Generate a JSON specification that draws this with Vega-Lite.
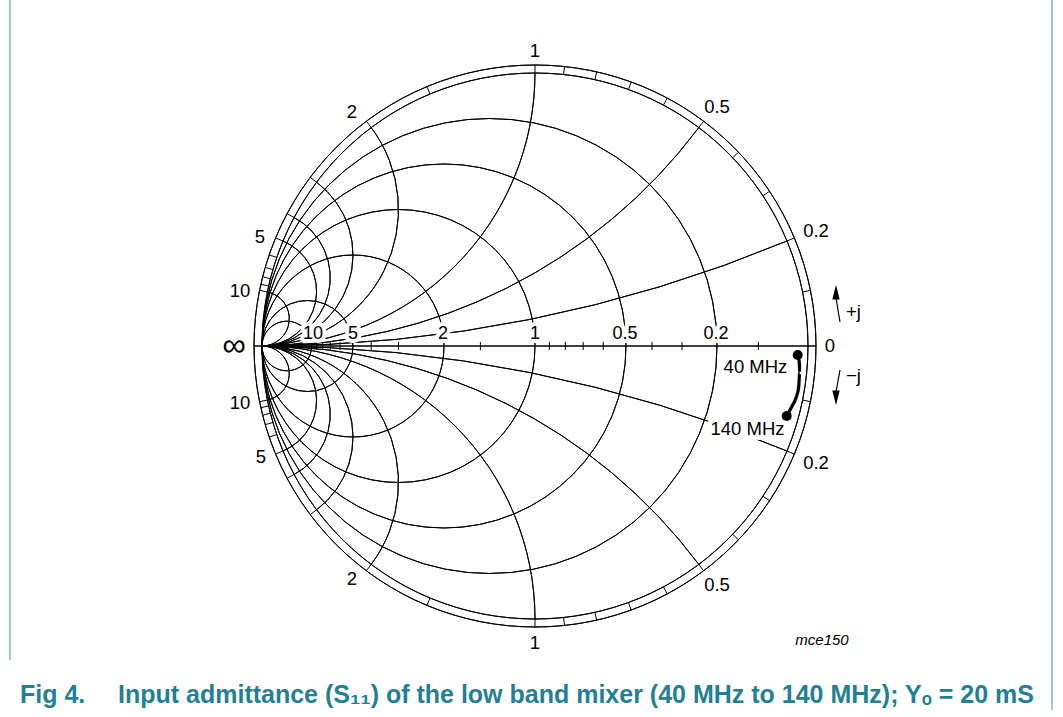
{
  "$schema": "https://vega.github.io/schema/vega-lite/v6.json",
  "width": 1063,
  "height": 717,
  "autosize": {"type": "none"},
  "padding": 0,
  "background": "white",
  "config": {"view": {"stroke": null}, "font": "Liberation Sans"},
  "datasets": {
    "grid": [
      {"name": "unit", "cu": 0, "cv": 0, "r": 1, "t1": 0, "t2": 360},
      {"name": "ring", "cu": 0, "cv": 0, "r": 1.0293, "t1": 0, "t2": 360},
      {"name": "g0.2", "cu": -0.166667, "cv": 0, "r": 0.833333, "t1": 0, "t2": 360},
      {"name": "g0.5", "cu": -0.333333, "cv": 0, "r": 0.666667, "t1": 0, "t2": 360},
      {"name": "g1", "cu": -0.5, "cv": 0, "r": 0.5, "t1": 0, "t2": 360},
      {"name": "g2", "cu": -0.666667, "cv": 0, "r": 0.333333, "t1": 0, "t2": 360},
      {"name": "g5", "cu": -0.833333, "cv": 0, "r": 0.166667, "t1": 0, "t2": 360},
      {"name": "g10", "cu": -0.909091, "cv": 0, "r": 0.090909, "t1": 0, "t2": 360},
      {"name": "b+0.2", "cu": -1, "cv": 5, "r": 5, "t1": 157.3801, "t2": 180},
      {"name": "b+0.5", "cu": -1, "cv": 2, "r": 2, "t1": 126.8699, "t2": 180},
      {"name": "b+1", "cu": -1, "cv": 1, "r": 1, "t1": 90, "t2": 180},
      {"name": "b+2", "cu": -1, "cv": 0.5, "r": 0.5, "t1": 53.1301, "t2": 180},
      {"name": "b+3", "cu": -1, "cv": 0.333333, "r": 0.333333, "t1": 36.8699, "t2": 180},
      {"name": "b+4", "cu": -1, "cv": 0.25, "r": 0.25, "t1": 28.0725, "t2": 180},
      {"name": "b+5", "cu": -1, "cv": 0.2, "r": 0.2, "t1": 22.6199, "t2": 180},
      {"name": "b+10", "cu": -1, "cv": 0.1, "r": 0.1, "t1": 11.4212, "t2": 180},
      {"name": "b-0.2", "cu": -1, "cv": -5, "r": 5, "t1": 0, "t2": 22.6199},
      {"name": "b-0.5", "cu": -1, "cv": -2, "r": 2, "t1": 0, "t2": 53.1301},
      {"name": "b-1", "cu": -1, "cv": -1, "r": 1, "t1": 0, "t2": 90},
      {"name": "b-2", "cu": -1, "cv": -0.5, "r": 0.5, "t1": 0, "t2": 126.8699},
      {"name": "b-3", "cu": -1, "cv": -0.333333, "r": 0.333333, "t1": 0, "t2": 143.1301},
      {"name": "b-4", "cu": -1, "cv": -0.25, "r": 0.25, "t1": 0, "t2": 151.9275},
      {"name": "b-5", "cu": -1, "cv": -0.2, "r": 0.2, "t1": 0, "t2": 157.3801},
      {"name": "b-10", "cu": -1, "cv": -0.1, "r": 0.1, "t1": 0, "t2": 168.5788}
    ],
    "ticks": [
      {"u1": 0.980198, "v1": 0.198020, "u2": 1.008918, "v2": 0.203822},
      {"u1": 0.923077, "v1": 0.384615, "u2": 0.950123, "v2": 0.395884},
      {"u1": 0.834862, "v1": 0.550459, "u2": 0.859323, "v2": 0.566588},
      {"u1": 0.724138, "v1": 0.689655, "u2": 0.745355, "v2": 0.709862},
      {"u1": 0.6, "v1": 0.8, "u2": 0.61758, "v2": 0.82344},
      {"u1": 0.470588, "v1": 0.882353, "u2": 0.484376, "v2": 0.908206},
      {"u1": 0.342282, "v1": 0.939597, "u2": 0.352311, "v2": 0.967127},
      {"u1": 0.219512, "v1": 0.975610, "u2": 0.225944, "v2": 1.004195},
      {"u1": 0.104972, "v1": 0.994475, "u2": 0.108048, "v2": 1.023613},
      {"u1": 0, "v1": 1, "u2": 0, "v2": 1.0293},
      {"u1": -0.384615, "v1": 0.923077, "u2": -0.395884, "v2": 0.950123},
      {"u1": -0.6, "v1": 0.8, "u2": -0.61758, "v2": 0.82344},
      {"u1": -0.8, "v1": 0.6, "u2": -0.82344, "v2": 0.61758},
      {"u1": -0.882353, "v1": 0.470588, "u2": -0.908206, "v2": 0.484376},
      {"u1": -0.923077, "v1": 0.384615, "u2": -0.950123, "v2": 0.395884},
      {"u1": -0.945946, "v1": 0.324324, "u2": -0.973662, "v2": 0.333827},
      {"u1": -0.96, "v1": 0.28, "u2": -0.988128, "v2": 0.288204},
      {"u1": -0.969231, "v1": 0.246154, "u2": -0.997629, "v2": 0.253366},
      {"u1": -0.975610, "v1": 0.219512, "u2": -1.004195, "v2": 0.225944},
      {"u1": -0.980198, "v1": 0.198020, "u2": -1.008918, "v2": 0.203822},
      {"u1": 0.980198, "v1": -0.198020, "u2": 1.008918, "v2": -0.203822},
      {"u1": 0.923077, "v1": -0.384615, "u2": 0.950123, "v2": -0.395884},
      {"u1": 0.834862, "v1": -0.550459, "u2": 0.859323, "v2": -0.566588},
      {"u1": 0.724138, "v1": -0.689655, "u2": 0.745355, "v2": -0.709862},
      {"u1": 0.6, "v1": -0.8, "u2": 0.61758, "v2": -0.82344},
      {"u1": 0.470588, "v1": -0.882353, "u2": 0.484376, "v2": -0.908206},
      {"u1": 0.342282, "v1": -0.939597, "u2": 0.352311, "v2": -0.967127},
      {"u1": 0.219512, "v1": -0.975610, "u2": 0.225944, "v2": -1.004195},
      {"u1": 0.104972, "v1": -0.994475, "u2": 0.108048, "v2": -1.023613},
      {"u1": 0, "v1": -1, "u2": 0, "v2": -1.0293},
      {"u1": -0.384615, "v1": -0.923077, "u2": -0.395884, "v2": -0.950123},
      {"u1": -0.6, "v1": -0.8, "u2": -0.61758, "v2": -0.82344},
      {"u1": -0.8, "v1": -0.6, "u2": -0.82344, "v2": -0.61758},
      {"u1": -0.882353, "v1": -0.470588, "u2": -0.908206, "v2": -0.484376},
      {"u1": -0.923077, "v1": -0.384615, "u2": -0.950123, "v2": -0.395884},
      {"u1": -0.945946, "v1": -0.324324, "u2": -0.973662, "v2": -0.333827},
      {"u1": -0.96, "v1": -0.28, "u2": -0.988128, "v2": -0.288204},
      {"u1": -0.969231, "v1": -0.246154, "u2": -0.997629, "v2": -0.253366},
      {"u1": -0.975610, "v1": -0.219512, "u2": -1.004195, "v2": -0.225944},
      {"u1": -0.980198, "v1": -0.198020, "u2": -1.008918, "v2": -0.203822},
      {"u1": 0.818182, "v1": -0.015, "u2": 0.818182, "v2": 0.015},
      {"u1": 0.538462, "v1": -0.015, "u2": 0.538462, "v2": 0.015},
      {"u1": 0.428571, "v1": -0.015, "u2": 0.428571, "v2": 0.015},
      {"u1": 0.25, "v1": -0.015, "u2": 0.25, "v2": 0.015},
      {"u1": 0.176471, "v1": -0.015, "u2": 0.176471, "v2": 0.015},
      {"u1": 0.111111, "v1": -0.015, "u2": 0.111111, "v2": 0.015},
      {"u1": 0.052632, "v1": -0.015, "u2": 0.052632, "v2": 0.015},
      {"u1": -0.2, "v1": -0.015, "u2": -0.2, "v2": 0.015},
      {"u1": -0.5, "v1": -0.015, "u2": -0.5, "v2": 0.015},
      {"u1": -0.6, "v1": -0.015, "u2": -0.6, "v2": 0.015},
      {"u1": -0.714286, "v1": -0.015, "u2": -0.714286, "v2": 0.015},
      {"u1": -0.75, "v1": -0.015, "u2": -0.75, "v2": 0.015},
      {"u1": -0.777778, "v1": -0.015, "u2": -0.777778, "v2": 0.015},
      {"u1": -0.8, "v1": -0.015, "u2": -0.8, "v2": 0.015}
    ],
    "axisline": [
      {"u1": -1.0293, "v1": 0, "u2": 1.0293, "v2": 0}
    ],
    "frame": [
      {"u1": -1.92308, "v1": 1.2674, "u2": -1.92308, "v2": -1.15018},
      {"u1": 1.89377, "v1": 1.2674, "u2": 1.89377, "v2": -1.33333}
    ],
    "axlabels": [
      {"t": "10", "u": -0.81319, "v": 0.02564},
      {"t": "5", "u": -0.66667, "v": 0.02564},
      {"t": "2", "u": -0.33700, "v": 0.02564},
      {"t": "1", "u": 0.0, "v": 0.02564},
      {"t": "0.5", "u": 0.32967, "v": 0.02564},
      {"t": "0.2", "u": 0.66300, "v": 0.02564}
    ],
    "mhz": [
      {"t": "40 MHz", "u": 0.80769, "v": -0.09890},
      {"t": "140 MHz", "u": 0.77839, "v": -0.32601}
    ],
    "ringlabels": [
      {"t": "1", "u": 0.0, "v": 1.05861},
      {"t": "0.5", "u": 0.66667, "v": 0.85348},
      {"t": "0.2", "u": 1.0293, "v": 0.39927},
      {"t": "2", "u": -0.67033, "v": 0.83516},
      {"t": "5", "u": -1.00733, "v": 0.37729},
      {"t": "10", "u": -1.08059, "v": 0.17949},
      {"t": "1", "u": 0.0, "v": -1.10989},
      {"t": "0.5", "u": 0.66667, "v": -0.89744},
      {"t": "0.2", "u": 1.0293, "v": -0.45055},
      {"t": "2", "u": -0.67033, "v": -0.87546},
      {"t": "5", "u": -1.00366, "v": -0.42857},
      {"t": "10", "u": -1.08059, "v": -0.23077},
      {"t": "0", "u": 1.08059, "v": -0.02198}
    ],
    "jlabels": [
      {"t": "+j", "u": 1.13919, "v": 0.10256},
      {"t": "\u2212j", "u": 1.13919, "v": -0.13187}
    ],
    "infinity": [
      {"t": "\u221e", "u": -1.10256, "v": 0.0}
    ],
    "shafts": [
      {"u1": 1.11722, "v1": 0.08791, "u2": 1.10256, "v2": 0.17582},
      {"u1": 1.11722, "v1": -0.08791, "u2": 1.10256, "v2": -0.16850}
    ],
    "heads": [
      {"dir": "up", "u": 1.10256, "v": 0.19048},
      {"dir": "down", "u": 1.10256, "v": -0.18315}
    ],
    "s11": [
      {"i": 1, "u": 0.9623, "v": -0.0330},
      {"i": 2, "u": 0.9681, "v": -0.0586},
      {"i": 3, "u": 0.9696, "v": -0.0989},
      {"i": 4, "u": 0.9659, "v": -0.1502},
      {"i": 5, "u": 0.9560, "v": -0.1905},
      {"i": 6, "u": 0.9403, "v": -0.2223},
      {"i": 7, "u": 0.9220, "v": -0.2564}
    ],
    "endpoints": [
      {"f": "40 MHz", "u": 0.9623, "v": -0.0330},
      {"f": "140 MHz", "u": 0.9220, "v": -0.2564}
    ],
    "caption": [
      {"t": "Fig 4.", "u": -1.88645, "v": -1.30769},
      {"t": "Input admittance (S\u2081\u2081) of the low band mixer (40 MHz to 140 MHz); Y\u2092 = 20 mS", "u": -1.52747, "v": -1.30769}
    ],
    "code": [
      {"t": "mce150", "u": 1.05128, "v": -1.09524}
    ]
  },
  "layer": [
    {
      "data": {"name": "grid"},
      "mark": {"type": "arc", "fillOpacity": 0, "stroke": "black", "strokeWidth": 1},
      "encoding": {
        "x": {"field": "cu", "type": "quantitative", "scale": {"domain": [-1.959707, 1.934066], "nice": false, "zero": false}, "axis": null},
        "y": {"field": "cv", "type": "quantitative", "scale": {"domain": [-1.358974, 1.267399], "nice": false, "zero": false}, "axis": null},
        "radius": {"field": "r", "type": "quantitative", "scale": {"type": "linear", "domain": [0, 1], "range": [0, 273], "zero": true}},
        "radius2": {"field": "r"},
        "theta": {"field": "t1", "type": "quantitative", "stack": null, "scale": {"type": "linear", "domain": [0, 360], "range": [0, 6.283185307]}},
        "theta2": {"field": "t2"}
      }
    },
    {
      "data": {"name": "ticks"},
      "mark": {"type": "rule", "stroke": "black", "strokeWidth": 1},
      "encoding": {
        "x": {"field": "u1", "type": "quantitative", "axis": null},
        "y": {"field": "v1", "type": "quantitative", "axis": null},
        "x2": {"field": "u2"},
        "y2": {"field": "v2"}
      }
    },
    {
      "data": {"name": "axisline"},
      "mark": {"type": "rule", "stroke": "black", "strokeWidth": 1.4},
      "encoding": {
        "x": {"field": "u1", "type": "quantitative", "axis": null},
        "y": {"field": "v1", "type": "quantitative", "axis": null},
        "x2": {"field": "u2"},
        "y2": {"field": "v2"}
      }
    },
    {
      "data": {"name": "frame"},
      "mark": {"type": "rule", "stroke": "#3b97a8", "strokeWidth": 1},
      "encoding": {
        "x": {"field": "u1", "type": "quantitative", "axis": null},
        "y": {"field": "v1", "type": "quantitative", "axis": null},
        "x2": {"field": "u2"},
        "y2": {"field": "v2"}
      }
    },
    {
      "data": {"name": "axlabels"},
      "mark": {"type": "text", "align": "center", "baseline": "alphabetic", "fontSize": 18, "fill": "white", "stroke": "white", "strokeWidth": 8, "strokeJoin": "round"},
      "encoding": {
        "x": {"field": "u", "type": "quantitative", "axis": null},
        "y": {"field": "v", "type": "quantitative", "axis": null},
        "text": {"field": "t"}
      }
    },
    {
      "data": {"name": "mhz"},
      "mark": {"type": "text", "align": "center", "baseline": "alphabetic", "fontSize": 18.5, "fill": "white", "stroke": "white", "strokeWidth": 10, "strokeJoin": "round"},
      "encoding": {
        "x": {"field": "u", "type": "quantitative", "axis": null},
        "y": {"field": "v", "type": "quantitative", "axis": null},
        "text": {"field": "t"}
      }
    },
    {
      "data": {"name": "axlabels"},
      "mark": {"type": "text", "align": "center", "baseline": "alphabetic", "fontSize": 18, "fill": "black"},
      "encoding": {
        "x": {"field": "u", "type": "quantitative", "axis": null},
        "y": {"field": "v", "type": "quantitative", "axis": null},
        "text": {"field": "t"}
      }
    },
    {
      "data": {"name": "mhz"},
      "mark": {"type": "text", "align": "center", "baseline": "alphabetic", "fontSize": 18.5, "fill": "black"},
      "encoding": {
        "x": {"field": "u", "type": "quantitative", "axis": null},
        "y": {"field": "v", "type": "quantitative", "axis": null},
        "text": {"field": "t"}
      }
    },
    {
      "data": {"name": "ringlabels"},
      "mark": {"type": "text", "align": "center", "baseline": "alphabetic", "fontSize": 18.5, "fill": "black"},
      "encoding": {
        "x": {"field": "u", "type": "quantitative", "axis": null},
        "y": {"field": "v", "type": "quantitative", "axis": null},
        "text": {"field": "t"}
      }
    },
    {
      "data": {"name": "jlabels"},
      "mark": {"type": "text", "align": "left", "baseline": "alphabetic", "fontSize": 18.5, "fill": "black"},
      "encoding": {
        "x": {"field": "u", "type": "quantitative", "axis": null},
        "y": {"field": "v", "type": "quantitative", "axis": null},
        "text": {"field": "t"}
      }
    },
    {
      "data": {"name": "infinity"},
      "mark": {"type": "text", "align": "center", "baseline": "middle", "fontSize": 33, "fill": "black"},
      "encoding": {
        "x": {"field": "u", "type": "quantitative", "axis": null},
        "y": {"field": "v", "type": "quantitative", "axis": null},
        "text": {"field": "t"}
      }
    },
    {
      "data": {"name": "shafts"},
      "mark": {"type": "rule", "stroke": "black", "strokeWidth": 1.2},
      "encoding": {
        "x": {"field": "u1", "type": "quantitative", "axis": null},
        "y": {"field": "v1", "type": "quantitative", "axis": null},
        "x2": {"field": "u2"},
        "y2": {"field": "v2"}
      }
    },
    {
      "data": {"name": "heads"},
      "mark": {"type": "point", "filled": true, "fill": "black", "stroke": null, "size": 340, "opacity": 1},
      "encoding": {
        "x": {"field": "u", "type": "quantitative", "axis": null},
        "y": {"field": "v", "type": "quantitative", "axis": null},
        "shape": {"field": "dir", "type": "nominal", "legend": null, "scale": {"domain": ["up", "down"], "range": ["M0,-1L0.4,0.6L-0.4,0.6Z", "M0,1L0.4,-0.6L-0.4,-0.6Z"]}}
      }
    },
    {
      "data": {"name": "s11"},
      "mark": {"type": "line", "stroke": "black", "strokeWidth": 3.2, "interpolate": "monotone"},
      "encoding": {
        "x": {"field": "u", "type": "quantitative", "axis": null},
        "y": {"field": "v", "type": "quantitative", "axis": null},
        "order": {"field": "i"}
      }
    },
    {
      "data": {"name": "endpoints"},
      "mark": {"type": "circle", "fill": "black", "size": 100, "opacity": 1},
      "encoding": {
        "x": {"field": "u", "type": "quantitative", "axis": null},
        "y": {"field": "v", "type": "quantitative", "axis": null}
      }
    },
    {
      "data": {"name": "caption"},
      "mark": {"type": "text", "align": "left", "baseline": "alphabetic", "fontSize": 25, "fontWeight": "bold", "fill": "#1f8096"},
      "encoding": {
        "x": {"field": "u", "type": "quantitative", "axis": null},
        "y": {"field": "v", "type": "quantitative", "axis": null},
        "text": {"field": "t"}
      }
    },
    {
      "data": {"name": "code"},
      "mark": {"type": "text", "align": "center", "baseline": "alphabetic", "fontSize": 15, "fontStyle": "italic", "fill": "black"},
      "encoding": {
        "x": {"field": "u", "type": "quantitative", "axis": null},
        "y": {"field": "v", "type": "quantitative", "axis": null},
        "text": {"field": "t"}
      }
    }
  ]
}
